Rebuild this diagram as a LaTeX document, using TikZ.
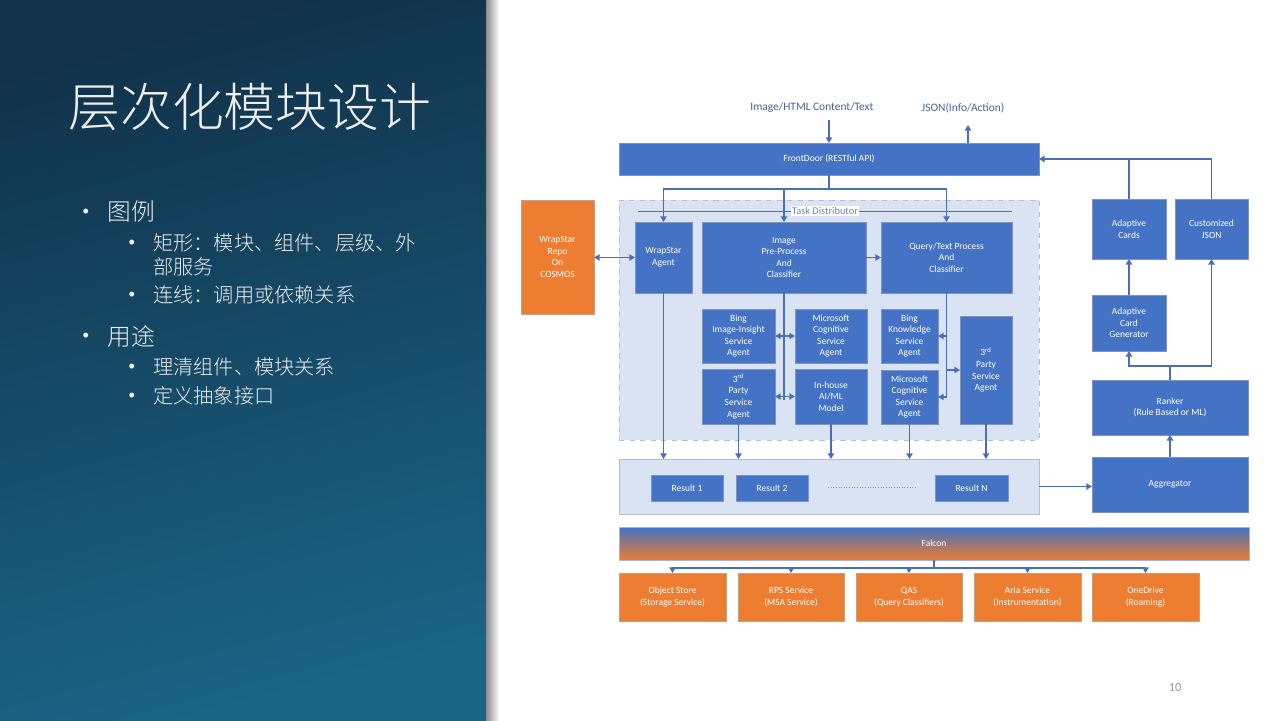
\documentclass[tikz,border=0pt]{standalone}
\usepackage{fontspec}
\setmainfont{Carlito}
\newfontfamily\cjk{Noto Sans CJK SC}[UprightFont={* Light}]
\usetikzlibrary{arrows.meta}

\definecolor{boxblue}{HTML}{4472C4}
\definecolor{boxedge}{HTML}{7F95BE}
\definecolor{lineblue}{HTML}{4A6FB8}
\definecolor{paleblue}{HTML}{DAE3F3}
\definecolor{paleedge}{HTML}{B8BEC8}
\definecolor{orangebox}{HTML}{ED7D31}
\definecolor{orangeedge}{HTML}{C9A07F}
\definecolor{panTop}{HTML}{11324A}
\definecolor{panBot}{HTML}{1A6486}
\definecolor{labelblue}{HTML}{44649E}
\definecolor{tdlabel}{HTML}{7088B8}
\definecolor{slidetext}{HTML}{EEEEEE}

\tikzset{
  blk/.style={draw=boxedge, line width=0.5pt, fill=boxblue, text=white,
    font=\fontsize{5.4}{6.6}\selectfont, align=center, inner sep=0pt, outer sep=0pt},
  obox/.style={blk, fill=orangebox, draw=orangeedge},
  fbar/.style={blk, top color=boxblue, bottom color=orangebox, draw=boxedge!70},
  panel/.style={draw=paleedge, fill=paleblue, line width=0.5pt, inner sep=0pt, outer sep=0pt},
  tdpanel/.style={panel, dashed},
  ln/.style={draw=lineblue, line width=0.75pt},
  arr/.style={ln, -{Triangle[length=3.2pt,width=3.6pt]}},
  darr/.style={ln, {Triangle[length=3.2pt,width=3.6pt]}-{Triangle[length=3.2pt,width=3.6pt]}},
  toplbl/.style={text=labelblue, font=\fontsize{6.5}{8}\selectfont, inner sep=0pt},
  bul/.style={text=slidetext, anchor=west, inner sep=0pt, font=\fontsize{8}{10}\selectfont},
  lvlone/.style={text=slidetext, anchor=west, inner sep=0pt, font=\cjk\fontsize{13.5}{15}\selectfont},
  lvltwo/.style={text=slidetext, anchor=west, inner sep=0pt, font=\cjk\fontsize{11.5}{13}\selectfont},
}

% rectangle node from its corner coordinates (in pixels)
\newcommand\boxnode[7]{%
  \node[#6, minimum width={(#4-#2)*0.02cm}, minimum height={(#5-#3)*0.02cm}]
    (#1) at ({(#2+#4)/2},{(#3+#5)/2}) {#7};}

\begin{document}
\begin{tikzpicture}[x=0.02cm, y=-0.02cm]
\useasboundingbox (0,0) rectangle (1280,720);
\fill[white] (0,0) rectangle (1280,720);

% ---- left title panel
\shade[top color=panTop, bottom color=panBot, shading angle=15] (0,0) rectangle (486,720);
\shade[left color=black!45, right color=white] (486,0) rectangle (499,720);

\node[text=slidetext, anchor=west, inner sep=0pt, font=\cjk\fontsize{29.5}{32}\selectfont]
  (title) at (68,107) {层次化模块设计};

\node[bul] (b1) at (82,212) {•};
\node[lvlone] (t1) at (107,212) {图例};
\node[bul] (b11) at (128,243) {•};
\node[lvltwo] (t11) at (153,243) {矩形：模块、组件、层级、外};
\node[lvltwo] (t11b) at (153,267) {部服务};
\node[bul] (b12) at (128,295) {•};
\node[lvltwo] (t12) at (153,295) {连线：调用或依赖关系};
\node[bul] (b2) at (82,336) {•};
\node[lvlone] (t2) at (107,336) {用途};
\node[bul] (b21) at (128,367) {•};
\node[lvltwo] (t21) at (153,367) {理清组件、模块关系};
\node[bul] (b22) at (128,396) {•};
\node[lvltwo] (t22) at (153,396) {定义抽象接口};

% ---- front door
\node[toplbl] (inlbl) at (812,108) {Image/HTML Content/Text};
\node[toplbl] (outlbl) at (963,108) {JSON(Info/Action)};
\boxnode{fd}{619}{143}{1039}{175}{blk}{FrontDoor (RESTful API)}
\coordinate (inx) at (829,120);
\coordinate (outx) at (968,125);
\draw[arr] (inx) -- (inx |- fd.north);
\draw[arr] (outx |- fd.north) -- (outx);

% ---- task distributor
\boxnode{td}{619}{200}{1039}{440}{tdpanel}{}
\coordinate (tdl) at (638,211);
\coordinate (tdr) at (1012,211);
\draw[ln, line width=0.5pt] (tdl) -- (tdr);
\node[fill=white, text=tdlabel, inner sep=0.6pt, font=\fontsize{5.9}{7}\selectfont]
  (tdname) at (825,211) {Task Distributor};

\boxnode{wsr}{521}{200}{594}{314}{obox}{WrapStar\\Repo\\On\\COSMOS}
\boxnode{wsa}{635}{222}{692}{293}{blk}{WrapStar\\Agent}
\boxnode{ipp}{702}{222}{866}{293}{blk}{Image\\Pre-Process\\And\\Classifier}
\boxnode{qtp}{881}{222}{1012}{293}{blk}{Query/Text Process\\And\\Classifier}
\boxnode{bii}{702}{309}{775}{363}{blk}{Bing\\Image-Insight\\Service\\Agent}
\boxnode{mcl}{795}{309}{867}{363}{blk}{Microsoft\\Cognitive\\Service\\Agent}
\boxnode{tpl}{702}{369}{775}{424}{blk}{3\textsuperscript{rd}\\Party\\Service\\Agent}
\boxnode{ihm}{795}{369}{867}{424}{blk}{In-house\\AI/ML\\Model}
\boxnode{bks}{881}{309}{938}{363}{blk}{Bing\\Knowledge\\Service\\Agent}
\boxnode{mcr}{881}{370}{938}{424}{blk}{Microsoft\\Cognitive\\Service\\Agent}
\boxnode{tpr}{960}{316}{1012}{424}{blk}{3\textsuperscript{rd}\\Party\\Service\\Agent}

% dispatch from the front door
\coordinate (split) at (829,189);
\draw[ln] (fd.south) -- (split);
\draw[arr] (split) -| (wsa.north);
\draw[arr] (split) -| (ipp.north);
\draw[arr] (split) -| (qtp.north);

\draw[darr] (wsr.east |- wsa.west) -- (wsa.west);
\draw[arr] (ipp) -- (qtp);

% image branch
\coordinate (ippend) at (784,400);
\draw[ln] (ipp.south) -- (ippend);
\draw[darr] (bii) -- (mcl);
\draw[darr] (tpl) -- (ihm);

% query branch
\draw[ln] (qtp.south) -- (qtp.south |- mcr.east);
\draw[arr] (qtp.south |- bks.east) -- (bks.east);
\draw[arr] (qtp.south |- tpr.west) -- (tpr.west);
\draw[arr] (qtp.south |- mcr.east) -- (mcr.east);

% ---- results
\boxnode{res}{619}{459}{1039}{514}{panel}{}
\boxnode{r1}{651}{475}{723}{501}{blk}{Result 1}
\boxnode{r2}{736}{475}{808}{501}{blk}{Result 2}
\boxnode{rn}{935}{475}{1008}{501}{blk}{Result N}
\coordinate (dotl) at (828,487);
\coordinate (dotr) at (917,487);
\draw[lineblue!70, line width=0.5pt, densely dotted] (dotl) -- (dotr);
\foreach \b in {wsa,tpl,ihm,mcr,tpr}
  \draw[arr] (\b.south) -- (\b.south |- res.north);

% ---- aggregation and output formats
\boxnode{agg}{1092}{457}{1248}{512}{blk}{Aggregator}
\boxnode{rk}{1092}{380}{1248}{435}{blk}{Ranker\\(Rule Based or ML)}
\boxnode{acg}{1092}{295}{1166}{351}{blk}{Adaptive\\Card\\Generator}
\boxnode{ac}{1092}{199}{1166}{259}{blk}{Adaptive\\Cards}
\boxnode{cj}{1175}{199}{1248}{259}{blk}{Customized\\JSON}

\draw[arr] (res.east) -- (res.east -| agg.west);
\draw[arr] (agg.north) -- (rk.south);
\coordinate (rksplit) at (1170,366);
\draw[ln] (rk.north) -- (rksplit);
\draw[arr] (rksplit) -| (acg.south);
\draw[arr] (rksplit) -| (cj.south);
\draw[arr] (acg) -- (ac);
\draw[arr] (cj.north) |- (fd.east);
\draw[ln] (ac.north) -- (ac.north |- fd.east);

% ---- falcon platform
\boxnode{fal}{619}{527}{1249}{560}{fbar}{Falcon}
\boxnode{os}{619}{573}{726}{621}{obox}{Object Store\\(Storage Service)}
\boxnode{rps}{738}{573}{844}{621}{obox}{RPS Service\\(MSA Service)}
\boxnode{qas}{856}{573}{962}{621}{obox}{QAS\\(Query Classifiers)}
\boxnode{aria}{974}{573}{1081}{621}{obox}{Aria Service\\(Instrumentation)}
\boxnode{od}{1092}{573}{1199}{621}{obox}{OneDrive\\(Roaming)}
\coordinate (fsplit) at (934,568);
\draw[ln] (fal.south) -- (fsplit);
\foreach \s in {os,rps,qas,aria,od}
  \draw[arr] (fsplit) -| (\s.north);

% page number
\node[text=black!40, inner sep=0pt, font=\fontsize{7}{8}\selectfont] (pg) at (1175,688) {10};
\end{tikzpicture}
\end{document}
